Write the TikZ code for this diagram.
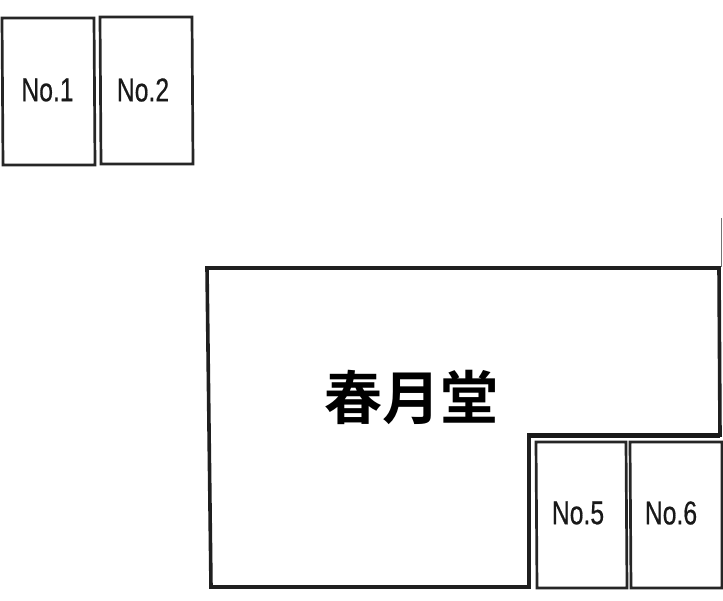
\documentclass[tikz,border=0pt]{standalone}
\usepackage{fontspec}
\setmainfont{Liberation Sans}
\newfontfamily\condfont[FakeBold=0.6]{Liberation Sans}
\newfontfamily\cjkfont{Noto Sans CJK JP Bold}
\newcommand{\condtext}[1]{\scalebox{.75}[1]{\condfont\fontsize{33}{33}\selectfont #1}}
\tikzset{
  lot/.style={draw=black!85,line width=2.7pt,line join=miter},
  lotlabel/.style={inner sep=0pt,text=black!90},
  building/.style={draw=black!88,line width=3.6pt,line join=miter},
}
\begin{document}
\begin{tikzpicture}[x=1pt,y=-1pt]
\useasboundingbox[fill=white] (0,0) rectangle (723,600);
% lots
\draw[lot] (2,18) -- (94,18) -- (95,165) -- (3,165) -- cycle;
\draw[lot] (100,17) -- (192,17) -- (193,164) -- (101,164) -- cycle;
\draw[lot] (536,442) -- (626,442) -- (627,588) -- (537,588) -- cycle;
\draw[lot] (630,442) -- (722,442) -- (722,588) -- (631,588) -- cycle;
% building
\draw[building] (207,268) -- (719,268) -- (720,435) -- (529,435) -- (529,587) -- (211,587) -- cycle;
\draw[line width=4.6pt,black!90] (529,435.5) -- (720,435.5);
\coordinate (stubtop) at (721.5,218);
\coordinate (stubbot) at (721.5,267);
\draw[black!55,line width=1.6pt] (stubtop) -- (stubbot);
% labels
\node[lotlabel] (n1) at (47.5,90) {\condtext{No.1}};
\node[lotlabel] (n2) at (143,90) {\condtext{No.2}};
\node[lotlabel] (n5) at (578,513) {\condtext{No.5}};
\node[lotlabel] (n6) at (671,513) {\condtext{No.6}};
\node[inner sep=0pt] (shop) at (411.5,397) {\cjkfont\fontsize{58}{58}\selectfont 春月堂};
\end{tikzpicture}
\end{document}
